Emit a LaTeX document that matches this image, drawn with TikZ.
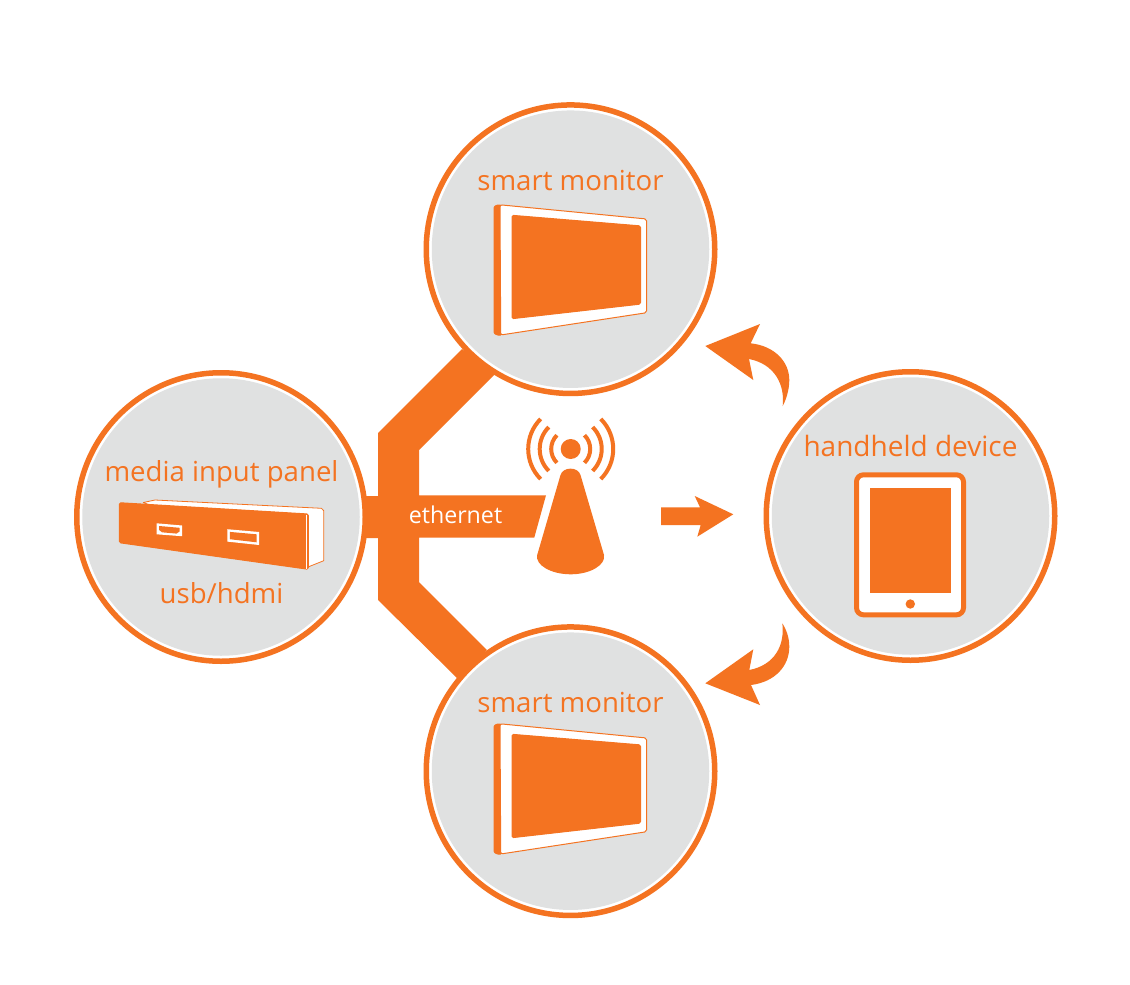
\documentclass[tikz,border=0pt]{standalone}
\usepackage{fontspec}
\setmainfont{Open Sans}
\definecolor{org}{HTML}{F47321}
\definecolor{gry}{HTML}{E0E1E1}
\tikzset{
  ring/.style={circle,draw=org,line width=5.5pt,fill=white,minimum size=288.5pt,inner sep=0pt,outer sep=0pt},
  disc/.style={circle,fill=gry,minimum size=277.5pt,inner sep=0pt,outer sep=0pt},
  lab/.style={text=org,anchor=base,font=\fontsize{27.6}{30}\selectfont,inner sep=0pt},
  wave/.style={draw=org,line width=4pt},
  outl/.style={draw=org,line width=1pt,fill=white,line join=round},
  solid/.style={fill=org,draw=org,line width=1pt,line join=round,rounded corners=1pt},
  portw/.style={fill=white},
  porti/.style={fill=org}
}
\newcommand{\monitor}[1]{%
  \begin{scope}[yshift=-#1pt]
    \path[solid] (494,207) -- (497,205) -- (501,205) -- (501.5,335) -- (497,335) -- (494,333) -- cycle;
    \path[outl,rounded corners=2pt] (500,204.8) -- (646.7,219) -- (646.7,312.7) -- (500.7,335) -- cycle;
    \path[solid,rounded corners=1.5pt] (512,215.3) -- (640.5,225.9) -- (640.5,304.1) -- (512,318.7) -- cycle;
  \end{scope}}
\begin{document}
\begin{tikzpicture}[x=1pt,y=-1pt]
\useasboundingbox (0,0) rectangle (1130,985);
\fill[white] (0,0) rectangle (1130,985);
% ethernet trunk
\fill[org] (340,496) -- (378,496) -- (378,433) -- (462,349) -- (495,374) -- (419,450) -- (419,495.3)
  -- (546,495.3) -- (534.3,537.5) -- (419,537.5) -- (419,582) -- (487,650) -- (457,678) -- (378,600)
  -- (378,538) -- (340,538) -- cycle;
% circles
\node[ring] (mediaring) at (221,517) {};
\node[disc] (mediadisc) at (221,517) {};
\node[ring] (topring) at (570.5,249.2) {};
\node[disc] (topdisc) at (570.5,249.2) {};
\node[ring] (botring) at (570.5,771.2) {};
\node[disc] (botdisc) at (570.5,771.2) {};
\node[ring] (handring) at (910.5,516) {};
\node[disc] (handdisc) at (910.5,516) {};
% labels
\node[lab] (l1) at (221.5,481.5) {media input panel};
\node[lab] (l2) at (221.5,603.5) {usb/hdmi};
\node[lab] (l3) at (570.5,190.5) {smart monitor};
\node[lab] (l4) at (570.5,712.5) {smart monitor};
\node[lab,font=\fontsize{28}{30}\selectfont] (l5) at (910.5,456.5) {handheld device};
\node[lab,text=white,font=\fontsize{23.2}{25}\selectfont] (l6) at (455.5,523) {ethernet};
% monitors
\monitor{0}
\monitor{519}
% panel
\path[outl,line width=.8pt] (143.3,502.5) -- (155,500) -- (321.5,508.3) -- (323.7,510.7) -- (323.7,560.7) -- (308,567) -- cycle;
\path[solid,rounded corners=1.5pt] (119.3,502.7) -- (308.3,514) -- (308.3,569.3) -- (119.3,542.7) -- cycle;
\draw[white,line width=.6pt] (306.4,514.5) -- (306.4,568.5);
\fill[portw] (156.7,523.3) -- (182,525.5) -- (182,536.2) -- (156.7,534.3) -- cycle;
\fill[porti] (159.2,526) -- (179.5,527.8) -- (179.5,531.5) -- (176.5,533.6) -- (162,532.3) -- (159.2,530) -- cycle;
\fill[portw] (227.3,529.2) -- (259,532) -- (259,545) -- (227.3,541.6) -- cycle;
\fill[porti] (229.8,531.9) -- (256.5,534.3) -- (256.5,542.3) -- (229.8,539.2) -- cycle;
% antenna
\fill[org] (570.7,449) circle (10);
\fill[org] (560.5,475) .. controls (563,466.5) and (578,466.5) .. (580.5,475)
  -- (604,555) .. controls (606,565) and (590,574.3) .. (570.7,574.3)
  .. controls (551,574.3) and (535,565) .. (537.2,555) -- cycle;
\foreach \r in {19.5,31,42.5}{
  \draw[wave] (570.7,449) ++(135:\r) arc[start angle=135,end angle=225,radius=\r];
  \draw[wave] (570.7,449) ++(45:\r) arc[start angle=45,end angle=-45,radius=\r];
}
% straight arrow
\fill[org] (661,507.3) -- (700,507.3) -- (694.7,496) -- (733.3,514.3) -- (697.3,536.7) -- (700.7,525) -- (661,525) -- cycle;
% curved arrows
\fill[org] (705.3,346) -- (760,324) -- (750.7,343.3) .. controls (775,346) and (789.3,362) .. (789.3,380)
  .. controls (789.3,390) and (786,400) .. (782.7,406) .. controls (785,385) and (775,364) .. (749,359) -- (753.3,380) -- cycle;
\fill[org] (705.3,683.3) -- (760,705) -- (751,685) .. controls (775,682) and (789.3,666) .. (789.3,646.7)
  .. controls (789.3,637) and (786,629) .. (782.3,623.3) .. controls (785,645) and (775,665) .. (749.3,670) -- (753.3,649.3) -- cycle;
% tablet
\draw[org,line width=5pt,fill=white,rounded corners=7pt] (856.5,474.8) rectangle (963.5,614.8);
\fill[org] (869.7,487.7) rectangle (951,592.7);
\fill[org] (910.3,604) circle (4.7);
\end{tikzpicture}
\end{document}
